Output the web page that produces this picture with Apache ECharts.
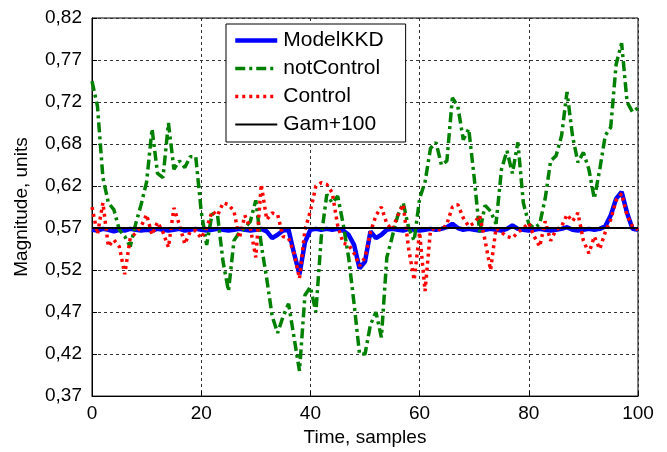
<!DOCTYPE html>
<html><head><meta charset="utf-8">
<script src="https://cdn.jsdelivr.net/npm/echarts@6/dist/echarts.min.js"></script>
<style>html,body{margin:0;padding:0;background:#fff}#c{width:667px;height:452px}</style>
</head><body><div id="c"></div>
<script>
const seriesNames = ['ModelKKD', 'notControl', 'Control', 'Gam+100'];
const yTickLabels = ['0,37','0,42','0,47','0,52','0,57','0,62','0,68','0,72','0,77','0,82'];
const xTickLabels = ['0','20','40','60','80','100'];

const modelKKD = [
0.568,0.567,0.569,0.568,0.566,0.568,0.567,0.569,0.568,0.567,
0.568,0.567,0.569,0.568,0.567,0.568,0.569,0.567,0.568,0.569,
0.568,0.567,0.568,0.569,0.568,0.567,0.568,0.569,0.568,0.567,
0.568,0.569,0.566,0.558,0.562,0.567,0.568,0.540,0.515,0.553,
0.568,0.569,0.568,0.569,0.568,0.569,0.567,0.562,0.550,0.522,
0.530,0.566,0.558,0.562,0.568,0.569,0.568,0.567,0.569,0.568,
0.567,0.568,0.569,0.568,0.569,0.571,0.575,0.570,0.568,0.569,
0.568,0.567,0.568,0.569,0.568,0.567,0.569,0.573,0.569,0.568,
0.567,0.568,0.569,0.568,0.567,0.568,0.569,0.571,0.568,0.567,
0.568,0.569,0.568,0.569,0.572,0.585,0.605,0.613,0.588,0.569,
0.568];

const notControl = [
0.745,0.715,0.630,0.600,0.592,0.568,0.560,0.548,0.575,0.598,
0.625,0.688,0.635,0.630,0.695,0.640,0.650,0.642,0.655,0.655,
0.590,0.550,0.587,0.585,0.530,0.495,0.555,0.565,0.570,0.578,
0.603,0.550,0.510,0.465,0.445,0.465,0.480,0.440,0.400,0.490,
0.500,0.470,0.560,0.610,0.600,0.608,0.575,0.535,0.480,0.420,
0.420,0.455,0.470,0.440,0.535,0.560,0.585,0.600,0.570,0.555,
0.605,0.625,0.665,0.672,0.645,0.650,0.725,0.715,0.675,0.688,
0.630,0.565,0.597,0.590,0.575,0.640,0.662,0.635,0.672,0.600,
0.575,0.570,0.575,0.605,0.650,0.656,0.680,0.732,0.680,0.648,
0.660,0.640,0.605,0.640,0.680,0.690,0.765,0.790,0.720,0.708,
0.713];

const control = [
0.595,0.563,0.600,0.548,0.556,0.548,0.515,0.558,0.564,0.572,
0.586,0.562,0.577,0.565,0.547,0.594,0.574,0.551,0.566,0.567,
0.558,0.570,0.590,0.585,0.600,0.598,0.590,0.558,0.585,0.570,
0.535,0.622,0.580,0.588,0.586,0.560,0.558,0.540,0.510,0.568,
0.590,0.620,0.624,0.622,0.612,0.573,0.552,0.550,0.540,0.525,
0.535,0.565,0.585,0.595,0.575,0.568,0.585,0.598,0.545,0.508,
0.565,0.495,0.568,0.570,0.567,0.575,0.595,0.598,0.582,0.572,
0.576,0.585,0.555,0.520,0.570,0.565,0.560,0.558,0.565,0.570,
0.576,0.560,0.548,0.578,0.555,0.568,0.572,0.586,0.578,0.588,
0.555,0.540,0.560,0.545,0.565,0.580,0.603,0.611,0.585,0.572,
0.568];

const gamX = [0, 100];
const gamValues = [0.57, 0.57];

const pairs = arr => arr.map((v, i) => [i, v]);
const FONT = 'Liberation Sans, Arial, sans-serif';

const chart = echarts.init(document.getElementById('c'), null, {renderer: 'canvas'});
chart.setOption({
  animation: false,
  backgroundColor: '#fff',
  grid: {left: 92, right: 29, top: 18, bottom: 49, show: true, borderColor: '#000', borderWidth: 1, backgroundColor: 'transparent'},
  legend: {
    orient: 'vertical', left: 226, top: 24,
    data: seriesNames,
    itemWidth: 42, itemHeight: 14, itemGap: 3,
    padding: [4, 22, 5, 7],
    borderColor: '#000', borderWidth: 1, backgroundColor: '#fff',
    itemStyle: {opacity: 0},
    lineStyle: {width: 'inherit'},
    textStyle: {fontFamily: FONT, fontSize: 21, color: '#000', lineHeight: 25, padding: [0,0,0,1]},
    inactiveColor: '#000'
  },
  xAxis: {
    type: 'value', min: 0, max: 100, interval: 20,
    name: 'Time, samples', nameLocation: 'middle', nameGap: 29,
    nameTextStyle: {fontFamily: FONT, fontSize: 19, color: '#000'},
    axisLine: {lineStyle: {color: '#000', width: 1}},
    axisTick: {inside: true, length: 5, lineStyle: {color: '#000'}},
    axisLabel: {fontFamily: FONT, fontSize: 19, color: '#000', margin: 8,
      formatter: v => xTickLabels[Math.round(v / 20)]},
    splitLine: {show: true, lineStyle: {color: '#333', type: [3, 3], width: 1}}
  },
  yAxis: {
    type: 'value', min: 0.37, max: 0.82, interval: 0.05,
    name: 'Magnitude, units', nameLocation: 'middle', nameGap: 61,
    nameTextStyle: {fontFamily: FONT, fontSize: 19, color: '#000'},
    axisLine: {show: true, lineStyle: {color: '#000', width: 1}},
    axisTick: {show: true, inside: true, length: 5, lineStyle: {color: '#000'}},
    axisLabel: {fontFamily: FONT, fontSize: 19, color: '#000', margin: 10,
      formatter: v => yTickLabels[Math.round((v - 0.37) / 0.05)]},
    splitLine: {show: true, lineStyle: {color: '#333', type: [3, 3], width: 1}}
  },
  series: [
    {name: seriesNames[0], type: 'line', data: pairs(modelKKD), showSymbol: false, symbol: 'none',
     color: '#0000ff', lineStyle: {color: '#0000ff', width: 4.5}, z: 2},
    {name: seriesNames[1], type: 'line', data: pairs(notControl), showSymbol: false, symbol: 'none',
     color: '#008000', lineStyle: {color: '#008000', width: 3.5, type: [10, 4, 3, 4]}, z: 3},
    {name: seriesNames[2], type: 'line', data: pairs(control), showSymbol: false, symbol: 'none',
     color: '#ff0000', lineStyle: {color: '#ff0000', width: 3.5, type: [3, 4]}, z: 4},
    {name: seriesNames[3], type: 'line', data: gamX.map((x, i) => [x, gamValues[i]]), showSymbol: false, symbol: 'none',
     color: '#000', lineStyle: {color: '#000', width: 2}, z: 5}
  ]
});
</script>
</body></html>
